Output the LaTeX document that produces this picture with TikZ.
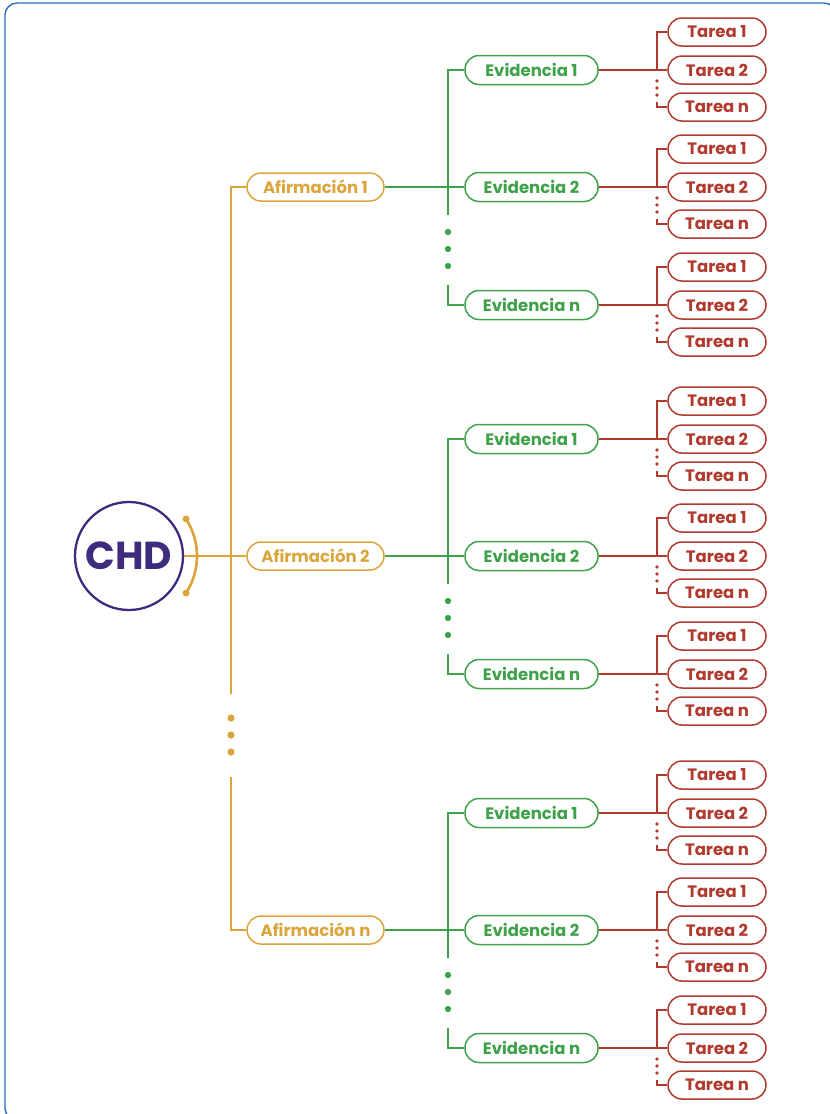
\documentclass[tikz,border=0pt]{standalone}
\usepackage{fontspec}
\setmainfont{Poppins}
\definecolor{chdpurple}{HTML}{3F2A7E}
\definecolor{afgold}{HTML}{DBA53C}
\definecolor{evgreen}{HTML}{3FA14A}
\definecolor{tared}{HTML}{B03A2E}
\definecolor{frameblue}{HTML}{2A6FBE}

\begin{document}
\begin{tikzpicture}[
        x=1pt, y=-1pt,
        line width=2.7pt,
        pill/.style={draw, line width=1.5pt, rounded corners=14pt, fill=white, inner sep=0pt, font=\bfseries\fontsize{16.5}{16.5}\selectfont},
        afbox/.style={pill, draw=afgold, text=afgold, minimum width=137pt, minimum height=28pt},
        evbox/.style={pill, draw=evgreen, text=evgreen, minimum width=133pt, minimum height=29pt},
        tabox/.style={pill, draw=tared, text=tared, minimum width=98pt, minimum height=28pt},
        afline/.style={afgold},
        evline/.style={evgreen},
        taline/.style={tared}
    ]

    \useasboundingbox (0,0) rectangle (830,1114);
    \draw[frameblue, line width=1.4pt, rounded corners=12pt] (5,3) rectangle (836,1120);

    % ==========================================
    % ROOT: CHD
    % ==========================================
    \node[circle, draw=chdpurple, line width=2.3pt, minimum size=108pt, text=chdpurple,
          font=\bfseries\fontsize{39}{39}\selectfont] (chd) at (129,556) {CHD};
    \draw[afline] (chd.center) ++(33:68) arc (33:-33:68);
    \fill[afgold] (chd.center) ++(33:68) circle (3.5pt);
    \fill[afgold] (chd.center) ++(-33:68) circle (3.5pt);

    % ==========================================
    % AFIRMACIONES + EVIDENCIAS + TAREAS
    % ==========================================
    \foreach \a/\ay in {1/187, 2/556, n/930} {
        \node[afbox] (af\a) at (315.5,\ay) {Afirmación \a};

        \foreach \e/\ey in {1/-117, 2/0, n/118} {
            \node[evbox] (ev\a-\e) at (531.5,\ay+\ey) {Evidencia \e};

            % Tareas
            \foreach \t/\ty in {1/-38, 2/0, n/37}
                \node[tabox] (ta\a-\e-\t) at (717,\ay+\ey+\ty) {Tarea \t};

            \coordinate (rbend\a-\e) at (657,\ay+\ey);
            \coordinate (rlow\a-\e) at (657,\ay+\ey+32);
            \draw[taline] (ev\a-\e.east) -- (ta\a-\e-2.west);
            \draw[taline] (ta\a-\e-1.west) -| (rbend\a-\e);
            \draw[taline] (rlow\a-\e) |- (ta\a-\e-n.west);
            \foreach \d in {11,18,25}
                \fill[tared] (657,\ay+\ey+\d) circle (1.8pt);
        }

        % Evidencias
        \coordinate (gend\a) at (448,\ay+28);
        \coordinate (gstart\a) at (448,\ay+98);
        \draw[evline] (af\a.east) -- (ev\a-2.west);
        \draw[evline] (ev\a-1.west) -| (gend\a);
        \draw[evline] (gstart\a) |- (ev\a-n.west);
        \foreach \d in {45,62,79}
            \fill[evgreen] (448,\ay+\d) circle (3.2pt);
    }

    % ==========================================
    % TRUNK
    % ==========================================
    \coordinate (tbreak) at (231,694);
    \coordinate (tresume) at (231,777);
    \draw[afline] (chd.east) -- (af2.west);
    \draw[afline] (af1.west) -| (tbreak);
    \draw[afline] (tresume) |- (afn.west);
    \foreach \d in {718,735,752}
        \fill[afgold] (231,\d) circle (3.6pt);

\end{tikzpicture}
\end{document}
